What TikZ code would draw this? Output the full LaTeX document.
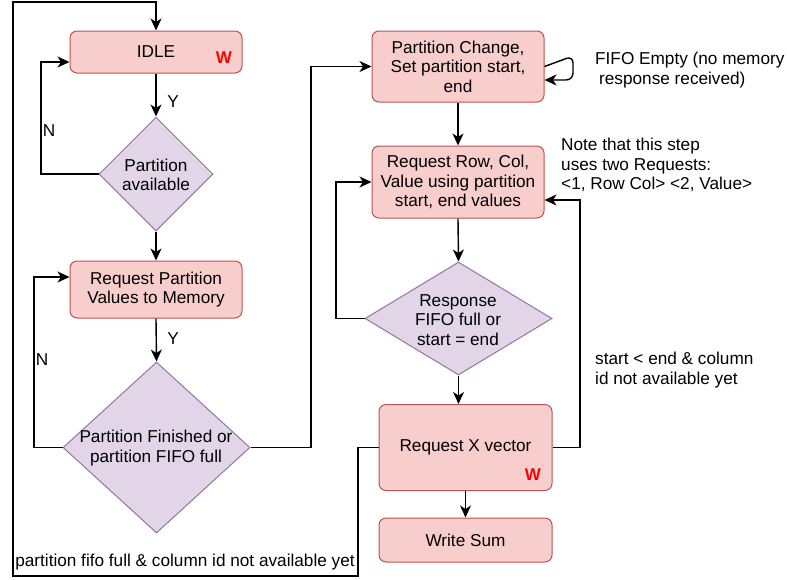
\documentclass[tikz,border=0pt]{standalone}
\usepackage{fontspec}
\setmainfont{Liberation Sans}
\usetikzlibrary{shapes.geometric,arrows.meta}

\definecolor{boxfill}{HTML}{F8CECC}
\definecolor{boxline}{HTML}{B85450}
\definecolor{diafill}{HTML}{E1D5E7}
\definecolor{dialine}{HTML}{9673A6}
\definecolor{wred}{HTML}{FF0000}

\newcommand\mainfs{\fontsize{17.2}{19.5}\selectfont}
\newcommand\wfs{\fontsize{17}{19}\selectfont}

\tikzset{
  box/.style={draw=boxline, fill=boxfill, rounded corners=7pt, line width=1pt,
    align=center, inner sep=0pt},
  dia/.style={diamond, draw=dialine, fill=diafill, line width=1pt, inner sep=0pt},
  txt/.style={align=center, inner sep=0pt},
  wire/.style={line width=1.4pt, draw=black},
  arr/.style={wire, -{Stealth[length=12pt,width=11pt,inset=3.5pt]}},
  wmark/.style={text=wred, font=\bfseries\wfs, inner sep=0pt},
}

\begin{document}
\begin{tikzpicture}[x=1pt, y=-1pt, every node/.style={font=\mainfs}]
  \useasboundingbox (0,0) rectangle (787,579);

  % left column: partition fetch
  \node[box, minimum width=172pt, minimum height=42pt] (idle) at (156,52) {IDLE};
  \node[wmark] (w1) at (224,58) {W};
  \node[dia, minimum width=114pt, minimum height=114pt] (d1) at (156,174) {};
  \node[txt] (t1) at (156,175) {Partition\\available};
  \node[box, minimum width=172pt, minimum height=57pt] (reqp) at (156,289.5)
    {Request Partition\\Values to Memory};
  \node[dia, minimum width=187pt, minimum height=171pt] (d2) at (156.5,447.5) {};
  \node[txt] (t2) at (156,448) {Partition Finished or\\partition FIFO full};

  % right column: element requests
  \node[box, minimum width=172pt, minimum height=71pt] (pc) at (458,66.5)
    {Partition Change,\\Set partition start,\\end};
  \node[box, minimum width=172pt, minimum height=72pt] (rr) at (458,182)
    {Request Row, Col,\\Value using partition\\start, end values};
  \node[dia, minimum width=187pt, minimum height=113pt] (d3) at (458.5,318.5) {};
  \node[txt] (t3) at (458,320) {Response\\FIFO full or\\start = end};
  \node[box, minimum width=173pt, minimum height=86pt] (rx) at (465.5,447.5)
    {Request X vector};
  \node[wmark] (w2) at (533,475) {W};
  \node[box, minimum width=173pt, minimum height=44pt] (ws) at (465.5,540) {Write Sum};

  % edge labels and notes
  \node[txt] (y1) at (173,102) {Y};
  \node[txt] (n1) at (49,131) {N};
  \node[txt] (y2) at (173,339) {Y};
  \node[txt] (n2) at (42,360) {N};
  \node[txt, align=left, anchor=west] (fe) at (595,70)
    {FIFO Empty (no memory\\\hspace*{4pt}response received)};
  \node[txt, align=left, anchor=west] (note) at (561,165)
    {Note that this step\\uses two Requests:\\<1, Row Col> <2, Value>};
  \node[txt, align=left, anchor=west] (se) at (595,370)
    {start < end \& column\\id not available yet};
  \node[txt] (pf) at (185,562) {partition fifo full \& column id not available yet};

  % connectors
  \draw[arr] (idle.south) -- (d1.north);
  \draw[arr] (d1.west) -- (41,174) -- (41,62) -- ([yshift=-10pt]idle.west);
  \draw[arr] (d1.south) -- (reqp.north);
  \draw[arr] (reqp.south) -- (d2.north);
  \draw[arr] (d2.west) -- (34,447.5) -- (34,277) -- ([yshift=12.5pt]reqp.west);
  \draw[arr] (d2.east) -- (311,447.5) -- (311,66.5) -- (pc.west);
  \draw[arr, rounded corners=7pt] (pc.east) -- (573,56) -- (573,80)
    -- ([yshift=-13.5pt]pc.east);
  \draw[arr] (pc.south) -- (rr.north);
  \draw[arr] (rr.south) -- (d3.north);
  \draw[arr] (d3.west) -- (336,318.5) -- (336,182) -- (rr.west);
  \draw[arr] (d3.south) -- (d3.south |- rx.north);
  \draw[arr] (rx.east) -- (580,447.5) -- (580,200) -- ([yshift=-18pt]rr.east);
  \draw[arr] (rx.south) -- (ws.north);
  \draw[arr] (rx.west) -- (358,447.5) -- (358,576) -- (13,576) -- (13,2)
    -- (156,2) -- (idle.north);
\end{tikzpicture}
\end{document}
